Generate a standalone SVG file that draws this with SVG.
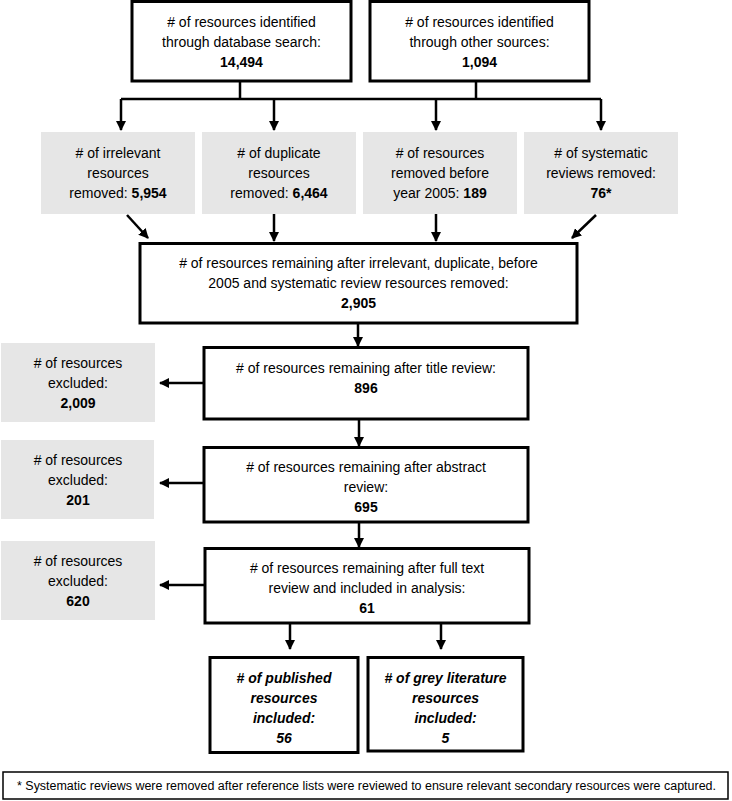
<svg xmlns="http://www.w3.org/2000/svg" width="732" height="801" viewBox="0 0 732 801">
<style>
text{font-family:"Liberation Sans",Arial,sans-serif;font-size:14px;fill:#000;text-anchor:middle}
.b{font-weight:bold}
.bi{font-weight:bold;font-style:italic}
.box{fill:#fff;stroke:#000;stroke-width:3}
.grey{fill:#e6e6e6;stroke:none}
.c{fill:none;stroke:#000;stroke-width:2.5}
.fn{font-size:12.5px;text-anchor:start}
</style>
<defs>
<marker id="ah" viewBox="0 0 10 10" refX="9" refY="5" markerWidth="4" markerHeight="4" markerUnits="strokeWidth" orient="auto">
<path d="M0,0 L10,5 L0,10 z" fill="#000"/>
</marker>
</defs>
<rect width="732" height="801" fill="#fff"/>

<g id="connectors">
<path class="c" d="M240,81 V99 M476,81 V99 M121,99 H601"/>
<path class="c" marker-end="url(#ah)" d="M121,99 V130"/>
<path class="c" marker-end="url(#ah)" d="M274,99 V130"/>
<path class="c" marker-end="url(#ah)" d="M436,99 V130"/>
<path class="c" marker-end="url(#ah)" d="M601,99 V130"/>
<path class="c" marker-end="url(#ah)" d="M127,215 L148,238"/>
<path class="c" marker-end="url(#ah)" d="M274,214 V241"/>
<path class="c" marker-end="url(#ah)" d="M436,214 V241"/>
<path class="c" marker-end="url(#ah)" d="M596,215 L572,238"/>
<path class="c" marker-end="url(#ah)" d="M358,324 V346"/>
<path class="c" marker-end="url(#ah)" d="M204,383 H160"/>
<path class="c" marker-end="url(#ah)" d="M359,420 V446"/>
<path class="c" marker-end="url(#ah)" d="M204,483 H160"/>
<path class="c" marker-end="url(#ah)" d="M359,523 V547"/>
<path class="c" marker-end="url(#ah)" d="M205,585 H160"/>
<path class="c" marker-end="url(#ah)" d="M290,624 V649"/>
<path class="c" marker-end="url(#ah)" d="M441,624 V649"/>
</g>

<g id="db-search">
<rect class="box" x="132" y="1.5" width="219" height="79.5"/>
<text x="241.5" y="27">
# of resources identified</text>
<text x="241.5" y="47">through database search:</text>
<text x="241.5" y="67" class="b">14,494</text>
</g>

<g id="other-sources">
<rect class="box" x="370" y="1.5" width="219" height="79.5"/>
<text x="479.5" y="27"># of resources identified</text>
<text x="479.5" y="47">through other sources:</text>
<text x="479.5" y="67" class="b">1,094</text>
</g>

<g id="irrelevant">
<rect class="grey" x="41" y="132" width="154" height="82"/>
<text x="118" y="158"># of irrelevant</text>
<text x="118" y="178">resources</text>
<text x="118" y="198">removed: <tspan class="b">5,954</tspan></text>
</g>

<g id="duplicate">
<rect class="grey" x="202" y="132" width="154" height="82"/>
<text x="279" y="158"># of duplicate</text>
<text x="279" y="178">resources</text>
<text x="279" y="198">removed: <tspan class="b">6,464</tspan></text>
</g>

<g id="before-2005">
<rect class="grey" x="363" y="132" width="154" height="82"/>
<text x="440" y="158"># of resources</text>
<text x="440" y="178">removed before</text>
<text x="440" y="198">year 2005: <tspan class="b">189</tspan></text>
</g>

<g id="systematic">
<rect class="grey" x="524" y="132" width="154" height="82"/>
<text x="601" y="158"># of systematic</text>
<text x="601" y="178">reviews removed:</text>
<text x="601" y="198" class="b">76*</text>
</g>

<g id="remaining-all">
<rect class="box" x="140" y="243.5" width="437" height="79.5"/>
<text x="358.5" y="268"># of resources remaining after irrelevant, duplicate, before</text>
<text x="358.5" y="288">2005 and systematic review resources removed:</text>
<text x="358.5" y="308" class="b">2,905</text>
</g>

<g id="title-review">
<rect class="box" x="204" y="347.5" width="324" height="71.5"/>
<text x="366" y="373"># of resources remaining after title review:</text>
<text x="366" y="393" class="b">896</text>
</g>

<g id="excluded-1">
<rect class="grey" x="1" y="343" width="154" height="79"/>
<text x="78" y="368"># of resources</text>
<text x="78" y="388">excluded:</text>
<text x="78" y="408" class="b">2,009</text>
</g>

<g id="abstract-review">
<rect class="box" x="204" y="447.5" width="324" height="74.5"/>
<text x="366" y="472"># of resources remaining after abstract</text>
<text x="366" y="492">review:</text>
<text x="366" y="512" class="b">695</text>
</g>

<g id="excluded-2">
<rect class="grey" x="1" y="440" width="153" height="79"/>
<text x="78" y="465"># of resources</text>
<text x="78" y="485">excluded:</text>
<text x="78" y="505" class="b">201</text>
</g>

<g id="full-text">
<rect class="box" x="205" y="548.5" width="324" height="74.5"/>
<text x="367" y="573"># of resources remaining after full text</text>
<text x="367" y="593">review and included in analysis:</text>
<text x="367" y="613" class="b">61</text>
</g>

<g id="excluded-3">
<rect class="grey" x="1" y="541" width="154" height="79"/>
<text x="78" y="566"># of resources</text>
<text x="78" y="586">excluded:</text>
<text x="78" y="606" class="b">620</text>
</g>

<g id="published">
<rect class="box" x="210" y="657.5" width="148" height="95"/>
<text x="284" y="683" class="bi"># of published</text>
<text x="284" y="703" class="bi">resources</text>
<text x="284" y="723" class="bi">included:</text>
<text x="284" y="743" class="bi">56</text>
</g>

<g id="grey-literature">
<rect class="box" x="368" y="657.5" width="155" height="93.5"/>
<text x="445.5" y="683" class="bi"># of grey literature</text>
<text x="445.5" y="703" class="bi">resources</text>
<text x="445.5" y="723" class="bi">included:</text>
<text x="445.5" y="743" class="bi">5</text>
</g>

<g id="footnote">
<rect x="3" y="772" width="725" height="27" fill="#fff" stroke="#000" stroke-width="1.5"/>
<text x="17" y="790" class="fn" textLength="699" lengthAdjust="spacingAndGlyphs">* Systematic reviews were removed after reference lists were reviewed to ensure relevant secondary resources were captured.</text>
</g>
</svg>
